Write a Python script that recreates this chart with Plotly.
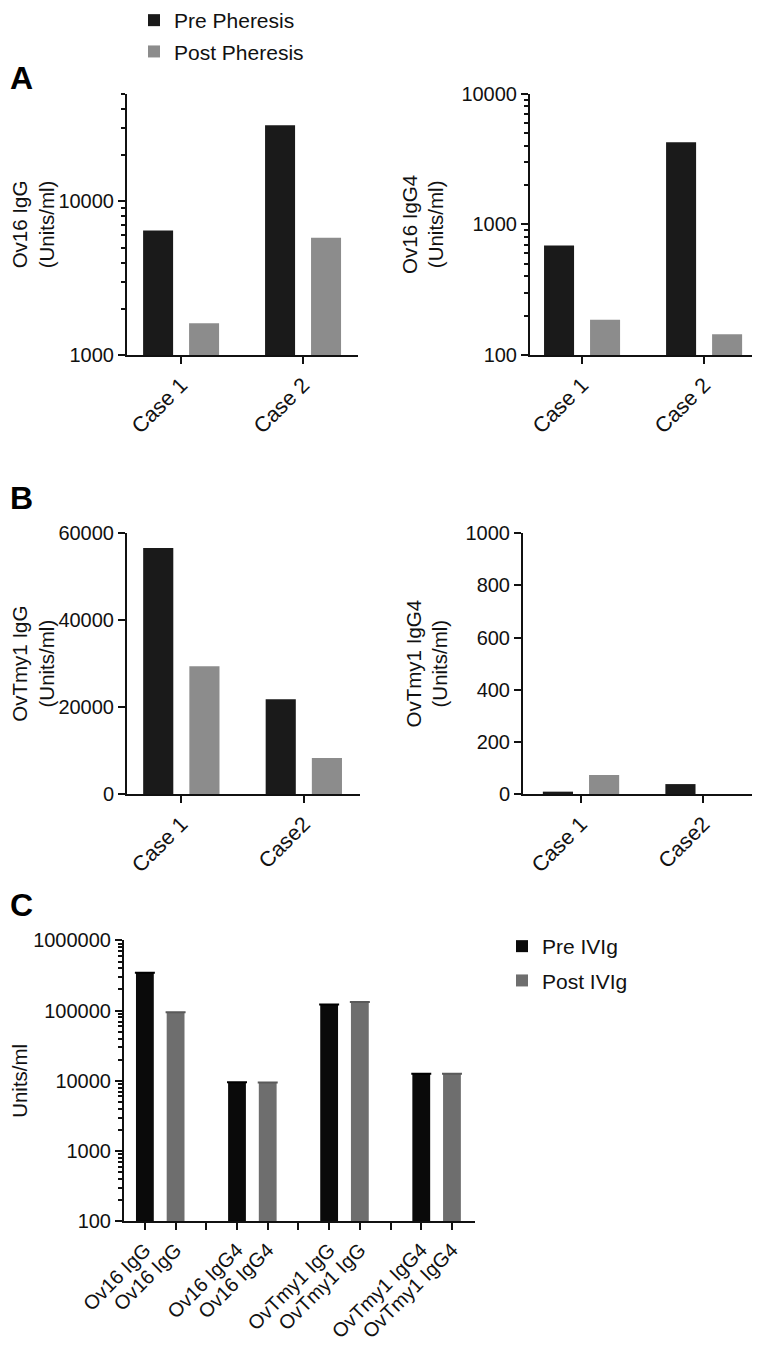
import plotly.graph_objects as go

# ---------------- data ----------------
cases_a = ["Case 1", "Case 2"]
ov16_igg_pre = [6470, 31300]
ov16_igg_post = [1610, 5800]
ov16_igg4_pre = [688, 4250]
ov16_igg4_post = [186, 144]

cases_b = ["Case 1", "Case2"]
ovtmy1_igg_pre = [56600, 21800]
ovtmy1_igg_post = [29400, 8300]
ovtmy1_igg4_pre = [9, 38]
ovtmy1_igg4_post = [73, 0]

c_labels = ["Ov16 IgG", "Ov16 IgG4", "OvTmy1 IgG", "OvTmy1 IgG4"]
c_pre = [347000, 9520, 122000, 12600]
c_post = [94600, 9500, 133000, 12600]

# page is 760x1350; the html body keeps its default 8px margin
OFF = 8
FW, FH = 760 - 2 * OFF, 1350 - 2 * OFF
FONT = "Liberation Sans, Arial, sans-serif"
INK = "#111111"
PRE_COL = "#1a1a1a"
POST_COL = "#8c8c8c"
C_PRE = "#0a0a0a"
C_POST = "#6e6e6e"


def px(x):
    return min(max((x - OFF) / FW, 0.0), 1.0)


def py(y):
    return 1 - (y - OFF) / FH


def xd(a, b):
    return [px(a), px(b)]


def yd(top, bottom):
    return [py(bottom), py(top)]


fig = go.Figure()

# ----- panels A and B (grouped pre/post bars) -----
panels = [
    ("x", "y", cases_a, ov16_igg_pre, ov16_igg_post, True),
    ("x2", "y2", cases_a, ov16_igg4_pre, ov16_igg4_post, False),
    ("x3", "y3", cases_b, ovtmy1_igg_pre, ovtmy1_igg_post, False),
    ("x4", "y4", cases_b, ovtmy1_igg4_pre, ovtmy1_igg4_post, False),
]
for xa, ya, cats, pre, post, show in panels:
    fig.add_trace(go.Bar(x=cats, y=pre, xaxis=xa, yaxis=ya, name="Pre Pheresis",
                         marker=dict(color=PRE_COL, line=dict(width=0)),
                         width=0.246, offset=-0.311, showlegend=show,
                         legend="legend", legendgroup="pre"))
    fig.add_trace(go.Bar(x=cats, y=post, xaxis=xa, yaxis=ya, name="Post Pheresis",
                         marker=dict(color=POST_COL, line=dict(width=0)),
                         width=0.246, offset=0.066, showlegend=show,
                         legend="legend", legendgroup="post"))

# ----- panel C -----
c_order = []
pre_keys, post_keys = [], []
tick_text = []
for i, lab in enumerate(c_labels):
    pk, qk = lab + "|pre", lab + "|post"
    pre_keys.append(pk)
    post_keys.append(qk)
    c_order += [pk, qk]
    tick_text += [lab, lab]
    if i < len(c_labels) - 1:
        c_order.append("gap%d" % i)
        tick_text.append("")

fig.add_trace(go.Bar(x=pre_keys, y=c_pre, xaxis="x5", yaxis="y5", name="Pre IVIg",
                     marker=dict(color=C_PRE, line=dict(width=0)), width=0.58,
                     error_y=dict(type="data", array=[0] * len(c_pre), width=10,
                                  thickness=2, color="#000000"),
                     legend="legend2", legendgroup="cpre"))
fig.add_trace(go.Bar(x=post_keys, y=c_post, xaxis="x5", yaxis="y5", name="Post IVIg",
                     marker=dict(color=C_POST, line=dict(width=0)), width=0.58,
                     error_y=dict(type="data", array=[0] * len(c_post), width=10,
                                  thickness=2, color="#5a5a5a"),
                     legend="legend2", legendgroup="cpost"))

axis_common = dict(showline=True, linecolor=INK, linewidth=2, ticks="outside",
                   tickcolor=INK, tickwidth=2, showgrid=False, zeroline=False,
                   automargin=False)
ytick_font = dict(family=FONT, size=20, color=INK)
xtick_font = dict(family=FONT, size=21.5, color=INK)
ctick_font = dict(family=FONT, size=20, color=INK)
title_font = dict(family=FONT, size=20.5, color=INK)
legend_font = dict(family=FONT, size=21, color=INK)
minor_log = dict(ticks="outside", ticklen=4, tickcolor=INK, tickwidth=1.5, dtick="D1")

fig.update_layout(
    template="none",
    width=FW, height=FH,
    margin=dict(l=0, r=0, t=0, b=0, pad=0, autoexpand=False),
    plot_bgcolor="white", paper_bgcolor="white",
    barmode="overlay",
    font=dict(family=FONT, color=INK),
    legend=dict(x=px(134), y=1 + 8 / FH, xanchor="left", yanchor="top",
                font=legend_font, tracegroupgap=1, bgcolor="rgba(0,0,0,0)"),
    legend2=dict(x=px(502), y=py(926), xanchor="left", yanchor="top",
                 font=legend_font, tracegroupgap=4, bgcolor="rgba(0,0,0,0)"),
    # A left
    xaxis=dict(domain=xd(127, 358), range=[-0.443, 1.451], anchor="y",
               tickangle=-45, ticklen=7, tickfont=xtick_font, **axis_common),
    yaxis=dict(domain=yd(94, 355), type="log", range=[3, 4.699], anchor="x",
               dtick=1, tickformat="d", ticklen=7, minor=minor_log, tickfont=ytick_font,
               title=dict(text="Ov16 IgG<br>(Units/ml)", font=title_font, standoff=12),
               **axis_common),
    # A right (runs to the right edge)
    xaxis2=dict(domain=xd(530, 760), range=[-0.426, 1.393], anchor="y2",
                tickangle=-45, ticklen=7, tickfont=xtick_font, **axis_common),
    yaxis2=dict(domain=yd(93.7, 355), type="log", range=[2, 4], anchor="x2",
                dtick=1, tickformat="d", ticklen=7, minor=minor_log, tickfont=ytick_font,
                title=dict(text="Ov16 IgG4<br>(Units/ml)", font=title_font, standoff=12),
                **axis_common),
    # B left
    xaxis3=dict(domain=xd(127, 359.5), range=[-0.443, 1.455], anchor="y3",
                tickangle=-45, ticklen=7, tickfont=xtick_font, **axis_common),
    yaxis3=dict(domain=yd(533.3, 794), range=[0, 60000], anchor="x3",
                dtick=20000, tickformat="d", ticklen=7, tickfont=ytick_font,
                title=dict(text="OvTmy1 IgG<br>(Units/ml)", font=title_font, standoff=12),
                **axis_common),
    # B right
    xaxis4=dict(domain=xd(523, 760), range=[-0.473, 1.396], anchor="y4",
                tickangle=-45, ticklen=7, tickfont=xtick_font, **axis_common),
    yaxis4=dict(domain=yd(533.3, 794), range=[0, 1000], anchor="x4",
                dtick=200, tickformat="d", ticklen=7, tickfont=ytick_font,
                title=dict(text="OvTmy1 IgG4<br>(Units/ml)", font=title_font, standoff=12),
                **axis_common),
    # C
    xaxis5=dict(domain=xd(124, 475), range=[-0.68, 10.75], anchor="y5",
                type="category", categoryorder="array", categoryarray=c_order,
                tickmode="array", tickvals=c_order, ticktext=tick_text,
                tickangle=-45, ticklen=7, tickfont=ctick_font, **axis_common),
    yaxis5=dict(domain=yd(940.4, 1221.3), type="log", range=[2, 6], anchor="x5",
                dtick=1, tickformat="d", ticklen=7, minor=minor_log, tickfont=ytick_font,
                title=dict(text="Units/ml", font=title_font, standoff=2),
                **axis_common),
)

for letter, ytop in [("A", 58), ("B", 478), ("C", 885)]:
    fig.add_annotation(text="<b>%s</b>" % letter, x=0, y=py(ytop),
                       xref="paper", yref="paper", xanchor="left", yanchor="top",
                       showarrow=False, font=dict(family=FONT, size=32, color="#000000"))

fig.write_html("out.html")
